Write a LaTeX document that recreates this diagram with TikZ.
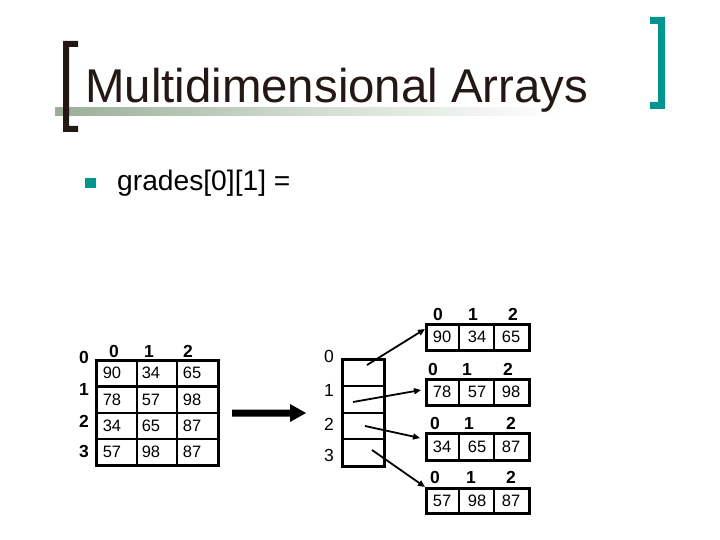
\documentclass[tikz,border=0pt]{standalone}
\usepackage{fontspec}
\setmainfont{Liberation Sans}
\usetikzlibrary{arrows.meta}
\definecolor{titlecol}{HTML}{231815}
\definecolor{teal}{HTML}{00968F}
\definecolor{gbar}{HTML}{9BAE99}
\begin{document}
\begin{tikzpicture}[x=1pt,y=-1pt,
  cellnum/.style={font=\fontsize{16.5}{16.5}\selectfont, inner sep=0pt},
  hdr/.style={font=\bfseries\fontsize{17.5}{17.5}\selectfont, inner sep=0pt},
  idx/.style={font=\fontsize{17.5}{17.5}\selectfont, inner sep=0pt},
  outer/.style={draw=black, line width=3pt},
  inner/.style={draw=black, line width=2.2pt},
  ptr/.style={line width=1.8pt, -{Triangle[length=7pt,width=6pt]}}]
\useasboundingbox (0,0) rectangle (720,540);
% title decoration
\shade[left color=gbar, right color=white, middle color=gbar!45] (55,108) rectangle (560,116);
\fill[titlecol] (63,41) -- (78,41) -- (78,47) -- (69,47) -- (69,126) -- (78,126) -- (78,132) -- (63,132) -- cycle;
\fill[teal] (650,17) -- (665,17) -- (665,109) -- (650,109) -- (650,102) -- (658,102) -- (658,24) -- (650,24) -- cycle;
\node[anchor=base west, inner sep=0pt, text=titlecol, font=\fontsize{47.4}{50}\selectfont] (title) at (85,103) {Multidimensional Arrays};
% bullet
\fill[teal] (85,178) rectangle (96,188);
\node[anchor=base west, inner sep=0pt, font=\fontsize{28.2}{30}\selectfont] (expr) at (117,191) {grades[0][1] =};
% left table
\foreach \y in {386.5,412.75,439} \draw[inner] (96,\y) -- (218,\y);
\foreach \x in {137,177} \draw[inner] (\x,360) -- (\x,465);
\draw[outer] (96,360) rectangle (218,465);
\node[hdr] (lh0) at (114,351) {0};
\node[hdr] (lh1) at (149,351) {1};
\node[hdr] (lh2) at (188,351) {2};
\node[hdr] (lr0) at (84,357) {0};
\node[hdr] (lr1) at (84,389) {1};
\node[hdr] (lr2) at (84,421) {2};
\node[hdr] (lr3) at (84,451) {3};
\node[cellnum] (a00) at (112,373) {90};
\node[cellnum] (a01) at (151,373) {34};
\node[cellnum] (a02) at (192,373) {65};
\node[cellnum] (a10) at (112,400) {78};
\node[cellnum] (a11) at (151,400) {57};
\node[cellnum] (a12) at (192,400) {98};
\node[cellnum] (a20) at (112,426) {34};
\node[cellnum] (a21) at (151,426) {65};
\node[cellnum] (a22) at (192,426) {87};
\node[cellnum] (a30) at (112,452) {57};
\node[cellnum] (a31) at (151,452) {98};
\node[cellnum] (a32) at (192,452) {87};
% big arrow
\fill[black] (232,409.5) -- (290,409.5) -- (290,404) -- (306,413) -- (290,422) -- (290,416.5) -- (232,416.5) -- cycle;
% pointer array
\foreach \y in {385.5,412.5,439} \draw[line width=2pt] (342,\y) -- (384,\y);
\draw[outer] (342,359) rectangle (384,466);
\node[idx] (p0l) at (329,356) {0};
\node[idx] (p1l) at (329,390) {1};
\node[idx] (p2l) at (329,424) {2};
\node[idx] (p3l) at (329,455) {3};
\coordinate (s0) at (367,365);
\coordinate (s1) at (353,402);
\coordinate (s2) at (365,426);
\coordinate (s3) at (372,450);
% row boxes
\foreach \t/\b in {324/350,379/405,433/460,488/513}{
  \draw[inner] (459,\t) -- (459,\b);
  \draw[inner] (494,\t) -- (494,\b);
  \draw[outer] (426,\t) rectangle (529,\b);
}
\node[hdr] (h00) at (438,314) {0};
\node[hdr] (h01) at (473,314) {1};
\node[hdr] (h02) at (513,314) {2};
\node[hdr] (h10) at (433,369) {0};
\node[hdr] (h11) at (467,369) {1};
\node[hdr] (h12) at (508,369) {2};
\node[hdr] (h20) at (435,423) {0};
\node[hdr] (h21) at (469,423) {1};
\node[hdr] (h22) at (511,423) {2};
\node[hdr] (h30) at (435,477) {0};
\node[hdr] (h31) at (471,477) {1};
\node[hdr] (h32) at (511,477) {2};
\node[cellnum] (b00) at (442,337) {90};
\node[cellnum] (b01) at (477,337) {34};
\node[cellnum] (b02) at (511,337) {65};
\node[cellnum] (b10) at (442,392) {78};
\node[cellnum] (b11) at (477,392) {57};
\node[cellnum] (b12) at (511,392) {98};
\node[cellnum] (b20) at (442,446.5) {34};
\node[cellnum] (b21) at (477,446.5) {65};
\node[cellnum] (b22) at (511,446.5) {87};
\node[cellnum] (b30) at (442,500.5) {57};
\node[cellnum] (b31) at (477,500.5) {98};
\node[cellnum] (b32) at (511,500.5) {87};
\coordinate (t0) at (425,329);
\coordinate (t1) at (421,390);
\coordinate (t2) at (420,438);
\coordinate (t3) at (425,487);
\draw[ptr] (s0) -- (t0);
\draw[ptr] (s1) -- (t1);
\draw[ptr] (s2) -- (t2);
\draw[ptr] (s3) -- (t3);
\end{tikzpicture}
\end{document}
